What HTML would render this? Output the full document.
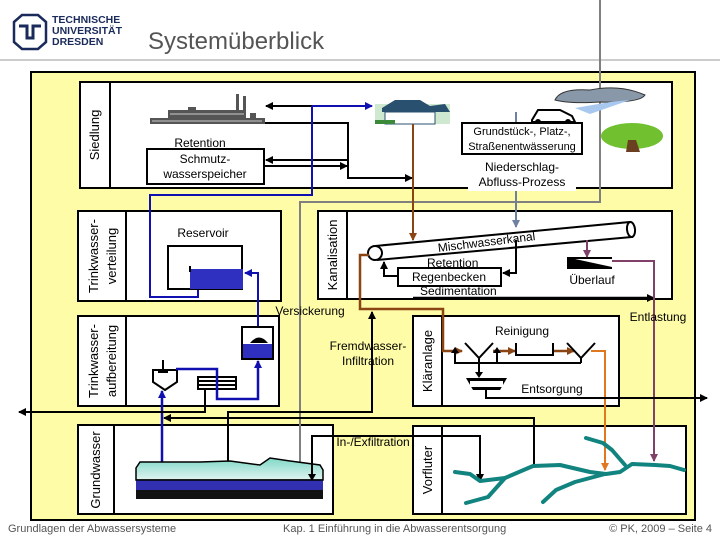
<!DOCTYPE html>
<html><head><meta charset="utf-8"><style>
html,body{margin:0;padding:0;background:#fff;width:720px;height:540px;overflow:hidden}
svg{display:block}
text{font-family:"Liberation Sans",sans-serif}
</style></head><body>
<svg width="720" height="540" viewBox="0 0 720 540" xmlns="http://www.w3.org/2000/svg">
<defs>
<marker id="ak" markerWidth="8" markerHeight="8" refX="7" refY="4" orient="auto" markerUnits="userSpaceOnUse"><path d="M0,0 L8,4 L0,8 z" fill="#000"/></marker>
<marker id="ab" markerWidth="8" markerHeight="8" refX="7" refY="4" orient="auto" markerUnits="userSpaceOnUse"><path d="M0,0 L8,4 L0,8 z" fill="#1010b0"/></marker>
<marker id="ag" markerWidth="8" markerHeight="8" refX="7" refY="4" orient="auto" markerUnits="userSpaceOnUse"><path d="M0,0 L8,4 L0,8 z" fill="#7080a0"/></marker>
<marker id="ar" markerWidth="8" markerHeight="8" refX="7" refY="4" orient="auto" markerUnits="userSpaceOnUse"><path d="M0,0 L8,4 L0,8 z" fill="#8b4513"/></marker>
<marker id="ao" markerWidth="8" markerHeight="8" refX="7" refY="4" orient="auto" markerUnits="userSpaceOnUse"><path d="M0,0 L8,4 L0,8 z" fill="#e07820"/></marker>
<marker id="ap" markerWidth="8" markerHeight="8" refX="7" refY="4" orient="auto" markerUnits="userSpaceOnUse"><path d="M0,0 L8,4 L0,8 z" fill="#804068"/></marker>
<marker id="agr" markerWidth="8" markerHeight="8" refX="7" refY="4" orient="auto" markerUnits="userSpaceOnUse"><path d="M0,0 L8,4 L0,8 z" fill="#808080"/></marker>
<linearGradient id="gw" x1="0" y1="0" x2="0" y2="1"><stop offset="0" stop-color="#80d8c8"/><stop offset="1" stop-color="#e0f4f0"/></linearGradient>
</defs>

<!-- header -->
<path d="M14,22 L22,15 L38,15 L46,22 L46,42 L38,49 L22,49 L14,42 Z" fill="none" stroke="#1a2a5a" stroke-width="2.5"/>
<path d="M19,26 L27,26 L27,38 L33,38 L33,26 L41,26" fill="none" stroke="#1a2a5a" stroke-width="3"/>
<text x="52" y="23" font-size="10.5" font-weight="bold" fill="#1a2a5a">TECHNISCHE</text>
<text x="52" y="34" font-size="10.5" font-weight="bold" fill="#1a2a5a">UNIVERSITÄT</text>
<text x="52" y="45" font-size="10.5" font-weight="bold" fill="#1a2a5a">DRESDEN</text>
<text x="148" y="49" font-size="24" fill="#555">Systemüberblick</text>
<line x1="0" y1="60" x2="720" y2="60" stroke="#999" stroke-width="1"/>

<!-- outer yellow -->
<rect x="31" y="72" width="664" height="448" fill="#fffca8" stroke="#000" stroke-width="2"/>

<!-- boxes -->
<rect x="80" y="82" width="592" height="106" fill="#fff" stroke="#000" stroke-width="2"/>
<line x1="110" y1="82" x2="110" y2="188" stroke="#000" stroke-width="2"/>
<rect x="78" y="211" width="203" height="90" fill="#fff" stroke="#000" stroke-width="2"/>
<line x1="126" y1="211" x2="126" y2="301" stroke="#000" stroke-width="2"/>
<rect x="318" y="211" width="354" height="88" fill="#fff" stroke="#000" stroke-width="2"/>
<line x1="347" y1="211" x2="347" y2="299" stroke="#000" stroke-width="2"/>
<rect x="78" y="316" width="201" height="90" fill="#fff" stroke="#000" stroke-width="2"/>
<line x1="126" y1="316" x2="126" y2="406" stroke="#000" stroke-width="2"/>
<rect x="413" y="316" width="206" height="90" fill="#fff" stroke="#000" stroke-width="2"/>
<line x1="442" y1="316" x2="442" y2="406" stroke="#000" stroke-width="2"/>
<rect x="78" y="425" width="255" height="89" fill="#fff" stroke="#000" stroke-width="2"/>
<line x1="114" y1="425" x2="114" y2="514" stroke="#000" stroke-width="2"/>
<rect x="413" y="426" width="273" height="88" fill="#fff" stroke="#000" stroke-width="2"/>
<line x1="442" y1="426" x2="442" y2="514" stroke="#000" stroke-width="2"/>

<!-- rotated labels -->
<g font-size="13" fill="#000" text-anchor="middle">
<text transform="translate(99,135) rotate(-90)">Siedlung</text>
<text transform="translate(98,256) rotate(-90)">Trinkwasser-</text>
<text transform="translate(116,256) rotate(-90)">verteilung</text>
<text transform="translate(337,255) rotate(-90)">Kanalisation</text>
<text transform="translate(98,361) rotate(-90)">Trinkwasser-</text>
<text transform="translate(116,361) rotate(-90)">aufbereitung</text>
<text transform="translate(432,361) rotate(-90)">Kläranlage</text>
<text transform="translate(100,470) rotate(-90)">Grundwasser</text>
<text transform="translate(432,470) rotate(-90)">Vorfluter</text>
</g>

<!-- gray Versickerung line -->
<polyline points="600,0 600,202 300,202 300,480" fill="none" stroke="#808080" stroke-width="2" marker-end="url(#agr)"/>

<!-- factory -->
<g fill="#555">
<rect x="168" y="110" width="78" height="14"/>
<rect x="150" y="118" width="115" height="6"/>
<rect x="236" y="94" width="3" height="20"/><rect x="243" y="96" width="3" height="18"/>
<rect x="188" y="107" width="8" height="4"/>
<rect x="250" y="113" width="6" height="5"/>
</g>
<g stroke="#ccc" stroke-width="1"><line x1="170" y1="114" x2="244" y2="114"/><line x1="152" y1="121" x2="262" y2="121"/></g>

<text x="200" y="147" font-size="12" text-anchor="middle">Retention</text>
<rect x="147" y="149" width="117" height="35" fill="#fff" stroke="#000" stroke-width="2"/>
<text x="205" y="163" font-size="12" text-anchor="middle">Schmutz-</text>
<text x="205" y="178" font-size="12" text-anchor="middle">wasserspeicher</text>

<!-- black siedlung arrows -->
<line x1="312" y1="106" x2="266" y2="106" stroke="#000" stroke-width="2" marker-end="url(#ak)"/>
<polyline points="265,123 348,123 348,178 412,178" fill="none" stroke="#000" stroke-width="2" marker-end="url(#ak)"/>
<line x1="348" y1="160" x2="266" y2="160" stroke="#000" stroke-width="2" marker-end="url(#ak)"/>
<line x1="265" y1="166" x2="347" y2="166" stroke="#000" stroke-width="2" marker-end="url(#ak)"/>

<!-- house -->
<rect x="375" y="104" width="75" height="20" fill="#cfe8d0"/>
<path d="M382,108 L395,100 L420,100 L430,106 L445,104 L450,112 L382,112 Z" fill="#2a5070"/>
<rect x="385" y="112" width="50" height="12" fill="#fff" stroke="#2a5070"/>
<rect x="375" y="120" width="20" height="4" fill="#3a8a3a"/>

<!-- car, cloud, tree -->
<path d="M532,120 L538,110 L560,110 L572,116 L575,122 L532,122 Z" fill="#fff" stroke="#000" stroke-width="2"/>
<circle cx="538" cy="122" r="3" fill="#000"/><circle cx="568" cy="122" r="3" fill="#000"/>
<path d="M555,100 Q560,88 590,90 Q620,84 645,95 Q640,103 600,102 Q570,104 555,100 Z" fill="#8898a8" stroke="#333"/>
<path d="M575,108 L610,102 L630,100 L590,114 Z" fill="#a8c8f0"/>
<ellipse cx="632" cy="136" rx="31" ry="13" fill="#70c030"/>
<path d="M628,140 L626,152 L640,152 L636,140 Z" fill="#6a4020"/>

<!-- Grundstück -->
<line x1="516" y1="112" x2="516" y2="123" stroke="#7080a0" stroke-width="2"/>
<rect x="462" y="123" width="120" height="31" fill="#fff" stroke="#000" stroke-width="2"/>
<text x="522" y="135" font-size="11" text-anchor="middle">Grundstück-, Platz-,</text>
<text x="522" y="150" font-size="11" text-anchor="middle">Straßenentwässerung</text>
<rect x="468" y="185" width="108" height="6" fill="#fff"/>
<text x="522" y="171" font-size="12" text-anchor="middle">Niederschlag-</text>
<text x="522" y="186" font-size="12" text-anchor="middle">Abfluss-Prozess</text>
<line x1="516" y1="191" x2="516" y2="227" stroke="#7080a0" stroke-width="2" marker-end="url(#ag)"/>

<!-- blue lines -->
<polyline points="312,106 372,106" fill="none" stroke="#1010b0" stroke-width="2" marker-end="url(#ab)"/>
<polyline points="312,106 312,195 150,195 150,297 198,297 198,287" fill="none" stroke="#1010b0" stroke-width="2"/>
<polyline points="258,327 258,273 245,273" fill="none" stroke="#1010b0" stroke-width="2" marker-end="url(#ab)"/>

<!-- reservoir -->
<text x="203" y="237" font-size="12" text-anchor="middle">Reservoir</text>
<rect x="168" y="246" width="74" height="43" fill="#fff" stroke="#000" stroke-width="2"/>
<rect x="190" y="269" width="53" height="20" fill="#3030c0"/>
<line x1="190" y1="266" x2="190" y2="272" stroke="#000" stroke-width="2"/>

<!-- brown house line -->
<line x1="413" y1="124" x2="413" y2="240" stroke="#8b4513" stroke-width="2" marker-end="url(#ar)"/>

<!-- pipe -->
<path d="M375,246 L630,222 L632,237 L377,260" fill="#fff" stroke="#000" stroke-width="2"/>
<ellipse cx="631" cy="229.5" rx="4" ry="7.5" fill="#fff" stroke="#000" stroke-width="2" transform="rotate(-6 631 229.5)"/>
<circle cx="375" cy="253" r="7" fill="#fff" stroke="#000" stroke-width="2"/>
<text x="487" y="246" font-size="12" text-anchor="middle" transform="rotate(-7 487 246)">Mischwasserkanal</text>
<text x="427" y="267" font-size="12">Retention</text>
<rect x="398" y="268" width="103" height="18" fill="#fff" stroke="#000" stroke-width="2"/>
<text x="449" y="281" font-size="12" text-anchor="middle">Regenbecken</text>
<text x="420" y="295" font-size="12">Sedimentation</text>
<polyline points="516,240 516,273 503,273" fill="none" stroke="#000" stroke-width="2" marker-end="url(#ak)"/>
<polyline points="398,276 384,276 384,262" fill="none" stroke="#000" stroke-width="2" marker-end="url(#ak)"/>
<line x1="413" y1="298" x2="654" y2="298" stroke="#000" stroke-width="2.5" marker-end="url(#ak)"/>

<!-- overflow -->
<polygon points="567,257 612,257 612,269 567,269" fill="#000"/>
<polygon points="575,259 612,259 612,267" fill="#fff"/>
<line x1="587" y1="240" x2="587" y2="257" stroke="#804068" stroke-width="2" marker-end="url(#ap)"/>
<polyline points="612,261 654,261 654,461" fill="none" stroke="#804068" stroke-width="2" marker-end="url(#ap)"/>
<text x="592" y="284" font-size="12" text-anchor="middle">Überlauf</text>
<text x="658" y="321" font-size="12" text-anchor="middle">Entlastung</text>

<!-- brown to Kläranlage -->
<polyline points="369,255 360,255 360,309 443,309 443,351 462,351" fill="none" stroke="#8b4513" stroke-width="2.5" marker-end="url(#ar)"/>

<text x="310" y="315" font-size="12" text-anchor="middle">Versickerung</text>
<text x="368" y="350" font-size="12" text-anchor="middle">Fremdwasser-</text>
<text x="368" y="365" font-size="12" text-anchor="middle">Infiltration</text>
<polyline points="228,480 228,412 372,412 372,312" fill="none" stroke="#000" stroke-width="2" marker-end="url(#ak)"/>
<path d="M228,470 L228,480" stroke="#000" stroke-width="2" marker-end="url(#ak)"/>

<!-- Kläranlage contents -->
<text x="522" y="335" font-size="12" text-anchor="middle">Reinigung</text>
<line x1="493" y1="351" x2="515" y2="351" stroke="#8b4513" stroke-width="2.5" marker-end="url(#ar)"/>
<line x1="553" y1="351" x2="574" y2="351" stroke="#8b4513" stroke-width="2.5" marker-end="url(#ar)"/>
<polyline points="591,351 605,351 605,470" fill="none" stroke="#e07820" stroke-width="2" marker-end="url(#ao)"/>
<g fill="none" stroke="#000" stroke-width="2">
<path d="M465,343 L479,358 L493,343"/><line x1="479" y1="358" x2="479" y2="363"/>
<path d="M516,343 L516,355 L553,355 L553,343"/>
<path d="M567,343 L581,358 L595,343"/><line x1="581" y1="358" x2="581" y2="363"/>
<polyline points="455,353 455,363 581,363"/>
<line x1="497" y1="363" x2="497" y2="353"/>
<line x1="479" y1="363" x2="479" y2="374"/>
</g>
<path d="M451,353 L455,347 L459,353 Z M493,353 L497,347 L501,353 Z M475,372 L479,378 L483,372 Z" fill="#000"/>
<path d="M466,378 L507,378 L500,390 L473,390 Z" fill="#000"/>
<rect x="470" y="381" width="33" height="6" fill="#fff"/>
<text x="552" y="393" font-size="12" text-anchor="middle">Entsorgung</text>
<polyline points="486,390 486,398 707,398" fill="none" stroke="#000" stroke-width="2" marker-end="url(#ak)"/>

<!-- Trinkwasseraufbereitung contents -->
<rect x="242" y="327" width="31" height="32" fill="#fff" stroke="#000" stroke-width="2"/>
<rect x="243" y="344" width="29" height="14" fill="#3030c0"/>
<path d="M250,343 Q259,332 268,343 Z" fill="#000"/>
<path d="M153,370 L177,370 L177,382 L165,390 L153,382 Z" fill="#fff" stroke="#000" stroke-width="2"/>
<line x1="163" y1="360" x2="163" y2="372" stroke="#000" stroke-width="2"/><line x1="158" y1="372" x2="168" y2="372" stroke="#000" stroke-width="2"/>
<rect x="198" y="377" width="38" height="12" fill="#fff" stroke="#000" stroke-width="2"/>
<line x1="198" y1="381" x2="236" y2="381" stroke="#000" stroke-width="2"/><line x1="198" y1="385" x2="236" y2="385" stroke="#000" stroke-width="2"/>
<polyline points="176,369 217,369 217,399 258,399 258,361" fill="none" stroke="#1010b0" stroke-width="2.5" marker-end="url(#ab)"/>
<line x1="162" y1="483" x2="162" y2="391" stroke="#1010b0" stroke-width="2.5" marker-end="url(#ab)"/>
<polyline points="205,389 205,412 19,412" fill="none" stroke="#000" stroke-width="2" marker-end="url(#ak)"/>
<polyline points="534,465 534,418 164,418" fill="none" stroke="#000" stroke-width="2" marker-end="url(#ak)"/>

<!-- groundwater -->
<path d="M136,468 L140,462 L200,462 L230,461 L260,465 L270,458 L290,461 L320,465 L323,470 L323,480 L136,480 Z" fill="url(#gw)" stroke="#000" stroke-width="1.5"/>
<rect x="136" y="480" width="187" height="10" fill="#3030b0"/>
<rect x="136" y="490" width="187" height="9" fill="#111"/>
<line x1="136" y1="480" x2="323" y2="480" stroke="#000" stroke-width="1.5"/>
<text x="373" y="446" font-size="12" text-anchor="middle">In-/Exfiltration</text>
<polyline points="312,480 312,436 480,436 480,481" fill="none" stroke="#000" stroke-width="2" marker-end="url(#ak)"/>
<path d="M308,474 L312,481 L316,474 Z" fill="#000"/>

<!-- river -->
<g fill="none" stroke="#128480" stroke-width="4" stroke-linecap="round" stroke-linejoin="round">
<polyline points="455,472 470,474 480,481 505,478 533,466 560,465 590,472 606,474 620,472 632,464 655,465 670,466 684,470"/>
<polyline points="586,438 603,443 612,450 625,465"/>
<polyline points="466,503 488,497 505,478"/>
<polyline points="543,502 556,490 575,482 605,474"/>
</g>

<!-- footer -->
<text x="8" y="532" font-size="11" fill="#555">Grundlagen der Abwassersysteme</text>
<text x="283" y="532" font-size="11" fill="#555">Kap. 1  Einführung in die Abwasserentsorgung</text>
<text x="712" y="532" font-size="11" fill="#555" text-anchor="end">© PK, 2009 – Seite 4</text>
</svg>
</body></html>
